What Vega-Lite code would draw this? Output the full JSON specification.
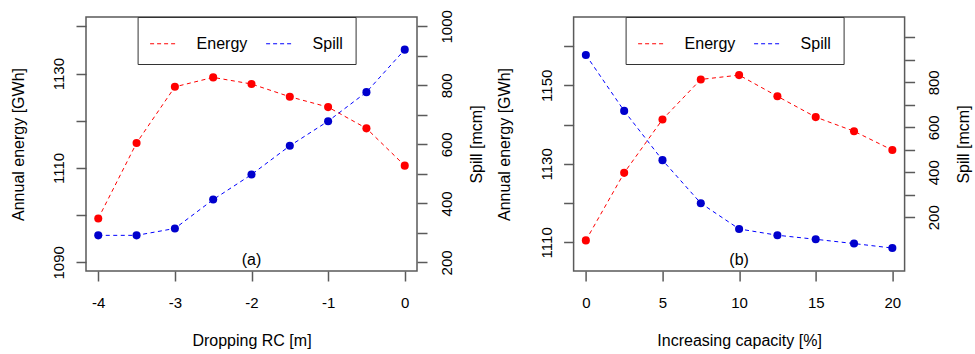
{
  "$schema": "https://vega.github.io/schema/vega-lite/v6.json",
  "autosize": {"type": "pad"},
  "padding": {"left": 9, "top": 8, "right": 3, "bottom": 3},
  "background": "white",
  "config": {
    "font": "Liberation Sans",
    "view": {"stroke": "#5a5a5a", "strokeWidth": 1.5},
    "axis": {
      "domain": false, "grid": false, "tickColor": "#5a5a5a", "tickWidth": 1.5, "tickSize": 10,
      "labelFont": "Liberation Sans", "labelFontSize": 15, "labelColor": "black",
      "titleFont": "Liberation Sans", "titleFontSize": 16, "titleFontWeight": "normal", "titleColor": "black",
      "labelOverlap": false, "labelFlush": false, "labelPadding": 12
    },
    "legend": {"labelFont": "Liberation Sans", "labelFontSize": 16, "labelColor": "black"}
  },
  "datasets": {
    "a": [
      {"x": -4, "energy": 1099.3, "spill": 291.6},
      {"x": -3.5, "energy": 1115.3, "spill": 291.6},
      {"x": -3, "energy": 1127.2, "spill": 315},
      {"x": -2.5, "energy": 1129.2, "spill": 412.8},
      {"x": -2, "energy": 1127.8, "spill": 497.7},
      {"x": -1.5, "energy": 1125.1, "spill": 595},
      {"x": -1, "energy": 1122.9, "spill": 678.6},
      {"x": -0.5, "energy": 1118.4, "spill": 777},
      {"x": 0, "energy": 1110.5, "spill": 921}
    ],
    "b": [
      {"x": 0, "energy": 1110.5, "spill": 922},
      {"x": 2.5, "energy": 1127.7, "spill": 673},
      {"x": 5, "energy": 1141.3, "spill": 454},
      {"x": 7.5, "energy": 1151.5, "spill": 262.5},
      {"x": 10, "energy": 1152.6, "spill": 148},
      {"x": 12.5, "energy": 1147.2, "spill": 120},
      {"x": 15, "energy": 1141.9, "spill": 102},
      {"x": 17.5, "energy": 1138.3, "spill": 83},
      {"x": 20, "energy": 1133.5, "spill": 63}
    ]
  },
  "bounds": "flush",
  "spacing": 156.6,
  "resolve": {"scale": {"color": "independent"}, "legend": {"color": "independent"}},
  "hconcat": [
    {
      "width": 331, "height": 254,
      "data": {"name": "a"},
      "encoding": {
        "x": {"field": "x", "type": "quantitative",
          "scale": {"domain": [-4.16, 0.16], "nice": false, "zero": false},
          "axis": {"values": [-4, -3, -2, -1, 0], "labelExpr": "toString(datum.value)", "labelPadding": 14,
            "title": "Dropping RC [m]", "titleBaseline": "alphabetic", "titleX": 165.5, "titleY": 74.7}}
      },
      "layer": [
        {
          "encoding": {
            "y": {"field": "energy", "type": "quantitative",
              "scale": {"domain": [1088.17, 1142.0], "nice": false, "zero": false},
              "axis": {"orient": "left", "values": [1090, 1100, 1110, 1120, 1130, 1140],
                "labelExpr": "datum.value % 20 == 10 ? toString(datum.value) : ''",
                "labelAngle": 270, "labelAlign": "center", "labelBaseline": "alphabetic", "labelPadding": 13,
                "title": "Annual energy [GWh]", "titleAngle": 270, "titleAlign": "center", "titleBaseline": "alphabetic",
                "titleX": -62.5, "titleY": 127}}
          },
          "layer": [
            {"mark": {"type": "line", "strokeDash": [4, 3.5], "strokeWidth": 1},
              "encoding": {"color": {"datum": "Energy", "type": "nominal",
                "scale": {"domain": ["Energy", "Spill"], "range": ["#ff0000", "#0000ff"]},
                "legend": {"orient": "none", "legendX": 51.6, "legendY": 0, "direction": "horizontal", "columns": 2,
                  "title": null, "symbolType": "stroke", "symbolSize": 784, "symbolDash": [4, 3], "symbolStrokeWidth": 1,
                  "labelOffset": 18, "columnPadding": 16, "padding": 12, "gridAlign": "each",
                  "labelExpr": "datum.value == 'Spill' ? '\u00a0\u00a0Spill\u00a0\u00a0\u00a0' : datum.value",
                  "strokeColor": "#333333", "fillColor": "white"}}}},
            {"mark": {"type": "point", "filled": true, "size": 65, "opacity": 1, "color": "#ff0000"}},
            {"data": {"values": [{"x": -2, "energy": 1089.5, "label": "(a)"}]},
              "mark": {"type": "text", "fontSize": 16, "align": "center", "baseline": "alphabetic", "color": "black"},
              "encoding": {"text": {"field": "label"}}}
          ]
        },
        {
          "encoding": {
            "y": {"field": "spill", "type": "quantitative",
              "scale": {"domain": [170.8, 1031.6], "nice": false, "zero": false},
              "axis": {"orient": "right", "values": [200, 300, 400, 500, 600, 700, 800, 900, 1000],
                "labelExpr": "datum.value % 200 == 0 ? toString(datum.value) : ''",
                "labelAngle": 270, "labelAlign": "center", "labelBaseline": "top", "labelPadding": 12,
                "title": "Spill [mcm]", "titleAngle": 270, "titleAlign": "center", "titleBaseline": "alphabetic",
                "titleX": 64.8, "titleY": 127}}
          },
          "layer": [
            {"mark": {"type": "line", "strokeDash": [4, 3.5], "strokeWidth": 1},
              "encoding": {"color": {"datum": "Spill", "type": "nominal",
                "scale": {"domain": ["Energy", "Spill"], "range": ["#ff0000", "#0000ff"]}}}},
            {"mark": {"type": "point", "filled": true, "size": 65, "opacity": 1, "color": "#0000cd"}}
          ]
        }
      ],
      "resolve": {"scale": {"y": "independent"}}
    },
    {
      "width": 331, "height": 254,
      "data": {"name": "b"},
      "encoding": {
        "x": {"field": "x", "type": "quantitative",
          "scale": {"domain": [-0.8, 20.8], "nice": false, "zero": false},
          "axis": {"values": [0, 5, 10, 15, 20], "labelExpr": "toString(datum.value)", "labelPadding": 14,
            "title": "Increasing capacity [%]", "titleBaseline": "alphabetic", "titleX": 165.5, "titleY": 74.7}}
      },
      "layer": [
        {
          "encoding": {
            "y": {"field": "energy", "type": "quantitative",
              "scale": {"domain": [1102.7, 1167.4], "nice": false, "zero": false},
              "axis": {"orient": "left", "values": [1110, 1120, 1130, 1140, 1150, 1160],
                "labelExpr": "datum.value % 20 == 10 ? toString(datum.value) : ''",
                "labelAngle": 270, "labelAlign": "center", "labelBaseline": "alphabetic", "labelPadding": 12,
                "title": "Annual energy [GWh]", "titleAngle": 270, "titleAlign": "center", "titleBaseline": "alphabetic",
                "titleX": -63.8, "titleY": 127}}
          },
          "layer": [
            {"mark": {"type": "line", "strokeDash": [4, 3.5], "strokeWidth": 1},
              "encoding": {"color": {"datum": "Energy", "type": "nominal",
                "scale": {"domain": ["Energy", "Spill"], "range": ["#ff0000", "#0000ff"]},
                "legend": {"orient": "none", "legendX": 52, "legendY": 0, "direction": "horizontal", "columns": 2,
                  "title": null, "symbolType": "stroke", "symbolSize": 784, "symbolDash": [4, 3], "symbolStrokeWidth": 1,
                  "labelOffset": 18, "columnPadding": 16, "padding": 12, "gridAlign": "each",
                  "labelExpr": "datum.value == 'Spill' ? '\u00a0\u00a0Spill\u00a0\u00a0\u00a0' : datum.value",
                  "strokeColor": "#333333", "fillColor": "white"}}}},
            {"mark": {"type": "point", "filled": true, "size": 65, "opacity": 1, "color": "#ff0000"}},
            {"data": {"values": [{"x": 10, "energy": 1104.3, "label": "(b)"}]},
              "mark": {"type": "text", "fontSize": 16, "align": "center", "baseline": "alphabetic", "color": "black"},
              "encoding": {"text": {"field": "label"}}}
          ]
        },
        {
          "encoding": {
            "y": {"field": "spill", "type": "quantitative",
              "scale": {"domain": [-39, 1090.6], "nice": false, "zero": false},
              "axis": {"orient": "right", "values": [200, 300, 400, 500, 600, 700, 800, 900, 1000],
                "labelExpr": "datum.value % 200 == 0 && datum.value < 1000 ? toString(datum.value) : ''",
                "labelAngle": 270, "labelAlign": "center", "labelBaseline": "top", "labelPadding": 12,
                "title": "Spill [mcm]", "titleAngle": 270, "titleAlign": "center", "titleBaseline": "alphabetic",
                "titleX": 64, "titleY": 127}}
          },
          "layer": [
            {"mark": {"type": "line", "strokeDash": [4, 3.5], "strokeWidth": 1},
              "encoding": {"color": {"datum": "Spill", "type": "nominal",
                "scale": {"domain": ["Energy", "Spill"], "range": ["#ff0000", "#0000ff"]}}}},
            {"mark": {"type": "point", "filled": true, "size": 65, "opacity": 1, "color": "#0000cd"}}
          ]
        }
      ],
      "resolve": {"scale": {"y": "independent"}}
    }
  ]
}
